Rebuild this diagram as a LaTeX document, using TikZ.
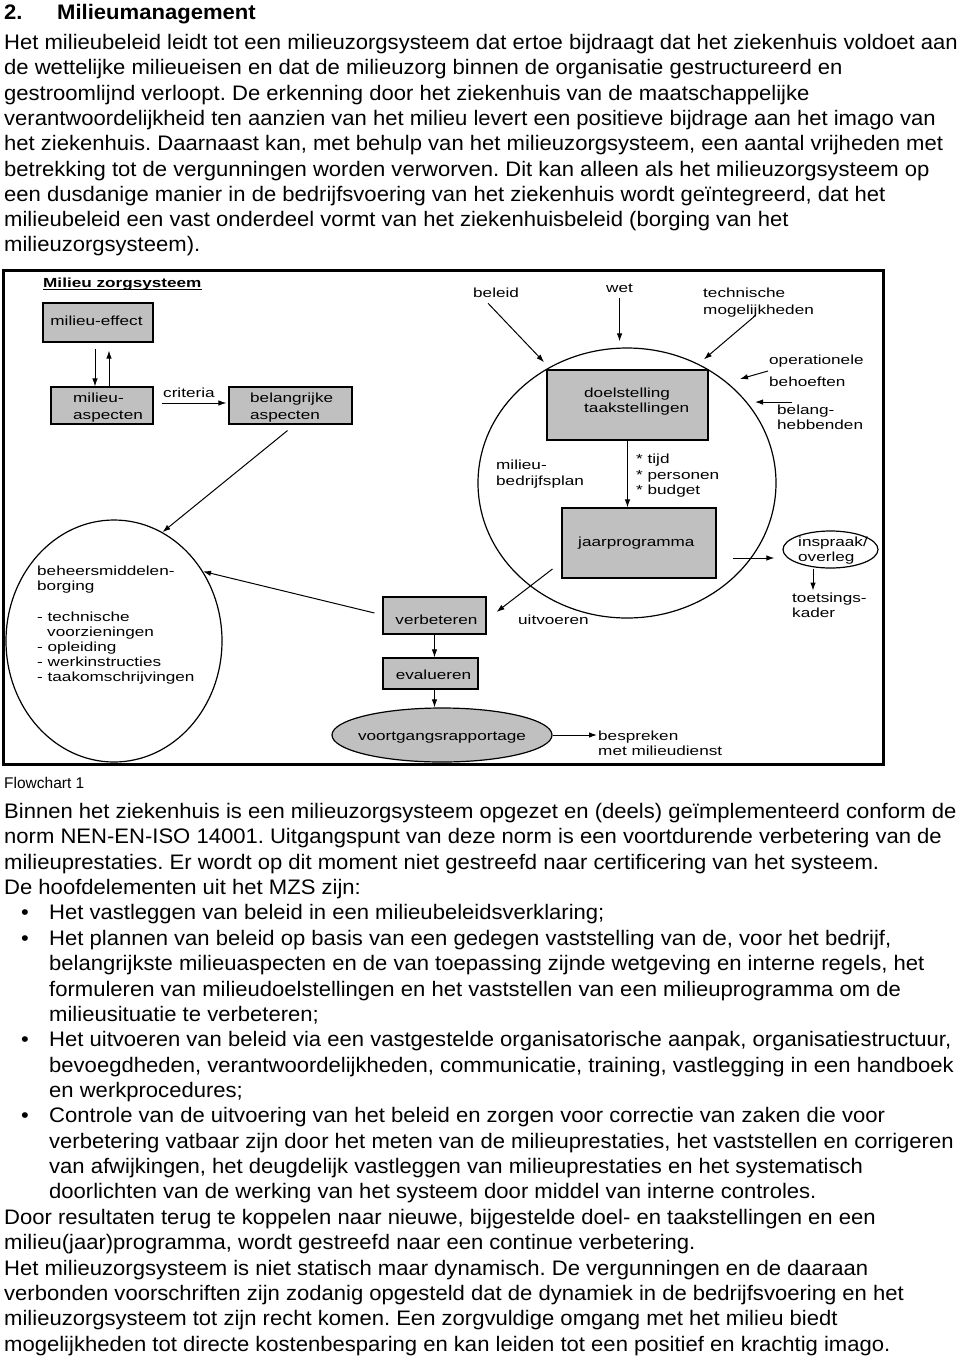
\documentclass[tikz,border=0pt]{standalone}
\usepackage{fontspec}
\setmainfont{Liberation Sans}
\newfontfamily\bodyfont[FakeStretch=1.05]{Liberation Sans}
\newfontfamily\diafont[FakeStretch=1.3]{Liberation Sans}
\usetikzlibrary{arrows.meta,calc,shapes.geometric}
\definecolor{boxgray}{RGB}{192,192,192}
\newcommand\bodyline[4]{\node[body] (#1) at (#2,#3) {#4};}
\frenchspacing
\begin{document}
\begin{tikzpicture}[x=1pt,y=-1pt,
  body/.style={font=\bodyfont\fontsize{21}{25}\selectfont, anchor=base west, inner sep=0pt},
  dt/.style={font=\diafont\fontsize{13.2}{15.3}\selectfont, anchor=base west, inner sep=0pt},
  dbox/.style={draw, line width=1.1pt, fill=boxgray, inner sep=0pt},
  dell/.style={draw, ellipse, line width=1.2pt, inner sep=0pt},
  arr/.style={-{Latex[length=8pt,width=5.5pt]}, line width=1pt},
]
\useasboundingbox (0,0) rectangle (960,1361);
\fill[white] (0,0) rectangle (960,1361);

% ---------- heading and first paragraph ----------
\node[body, font=\bodyfont\bfseries\fontsize{21}{25}\selectfont] (h2) at (4,19) {2.};
\node[body, font=\bodyfont\bfseries\fontsize{21}{25}\selectfont] (hm) at (57,19) {Milieumanagement};
\bodyline{t1}{4}{49.5}{Het milieubeleid leidt tot een milieuzorgsysteem dat ertoe bijdraagt dat het ziekenhuis voldoet aan}
\bodyline{t2}{4}{74.8}{de wettelijke milieueisen en dat de milieuzorg binnen de organisatie gestructureerd en}
\bodyline{t3}{4}{100.1}{gestroomlijnd verloopt. De erkenning door het ziekenhuis van de maatschappelijke}
\bodyline{t4}{4}{125.4}{verantwoordelijkheid ten aanzien van het milieu levert een positieve bijdrage aan het imago van}
\bodyline{t5}{4}{150.7}{het ziekenhuis. Daarnaast kan, met behulp van het milieuzorgsysteem, een aantal vrijheden met}
\bodyline{t6}{4}{176.0}{betrekking tot de vergunningen worden verworven. Dit kan alleen als het milieuzorgsysteem op}
\bodyline{t7}{4}{201.3}{een dusdanige manier in de bedrijfsvoering van het ziekenhuis wordt geïntegreerd, dat het}
\bodyline{t8}{4}{226.6}{milieubeleid een vast onderdeel vormt van het ziekenhuisbeleid (borging van het}
\bodyline{t9}{4}{251.9}{milieuzorgsysteem).}

% ---------- diagram frame ----------
\draw[line width=3pt] (3,270) rectangle (883,764);

% shapes
\node[dell, minimum width=298pt, minimum height=270pt] (plan) at (627,483) {};
\node[dell, minimum width=216pt, minimum height=242pt] (beh) at (114,641) {};
\node[dell, fill=boxgray, minimum width=220pt, minimum height=54pt] (voort) at (442,735) {};
\node[dell, minimum width=95pt, minimum height=37pt] (insp) at (830.5,549.5) {};
\node[dbox, minimum width=110pt, minimum height=39pt] (effect) at (98,322.5) {};
\node[dbox, minimum width=102pt, minimum height=37pt] (asp) at (102,405.5) {};
\node[dbox, minimum width=123pt, minimum height=37pt] (bel) at (290.5,405.5) {};
\node[dbox, minimum width=161pt, minimum height=70pt] (doel) at (627.5,405) {};
\node[dbox, minimum width=154pt, minimum height=70pt] (jaar) at (639,543) {};
\node[dbox, minimum width=103pt, minimum height=37pt] (verb) at (434.5,615.5) {};
\node[dbox, minimum width=95pt, minimum height=31pt] (eval) at (430.5,673.5) {};

% texts
\node[dt, font=\diafont\bfseries\fontsize{13.2}{15}\selectfont] (title) at (43,287) {Milieu zorgsysteem};
\draw[line width=1pt] ($(title.base west)+(0,2)$) -- ($(title.base east)+(0,2)$);
\node[dt, anchor=base] (efftxt) at (96.5,325.5) {milieu-effect};
\node[dt] (asptxt) at (73,402.5) {\vtop{\baselineskip=17pt\hbox{milieu-}\hbox{aspecten}}};
\node[dt] (crit) at (163,397.5) {criteria};
\node[dt] (beltxt) at (250,402.5) {\vtop{\baselineskip=17pt\hbox{belangrijke}\hbox{aspecten}}};
\node[dt] (beleid) at (473,297.5) {beleid};
\node[dt] (wet) at (606,292.5) {wet};
\node[dt] (tech) at (703,297.5) {\vtop{\baselineskip=17pt\hbox{technische}\hbox{mogelijkheden}}};
\node[dt] (oper) at (769,364.5) {operationele};
\node[dt] (behoef) at (769,386.5) {behoeften};
\node[dt] (belang) at (777,414.5) {\vtop{\baselineskip=15pt\hbox{belang-}\hbox{hebbenden}}};
\node[dt] (doeltxt) at (584,397.5) {\vtop{\baselineskip=15pt\hbox{doelstelling}\hbox{taakstellingen}}};
\node[dt] (mbp) at (496,469.5) {\vtop{\baselineskip=16pt\hbox{milieu-}\hbox{bedrijfsplan}}};
\node[dt] (tpb) at (636,463.5) {\vtop{\baselineskip=15.5pt\hbox{* tijd}\hbox{* personen}\hbox{* budget}}};
\node[dt] (jaartxt) at (578,546.5) {jaarprogramma};
\node[dt] (insptxt) at (798,546.5) {\vtop{\baselineskip=15pt\hbox{inspraak/}\hbox{overleg}}};
\node[dt] (toets) at (792,602.5) {\vtop{\baselineskip=15pt\hbox{toetsings-}\hbox{kader}}};
\node[dt] (uitv) at (518,624.5) {uitvoeren};
\node[dt, anchor=base] (verbtxt) at (436.5,624.5) {verbeteren};
\node[dt, anchor=base] (evaltxt) at (433.5,679.5) {evalueren};
\node[dt, anchor=base] (voorttxt) at (442,740.5) {voortgangsrapportage};
\node[dt] (besp) at (598,740.5) {\vtop{\baselineskip=15pt\hbox{bespreken}\hbox{met milieudienst}}};
\node[dt] (behtxt) at (37,575.5) {\vtop{\baselineskip=15.2pt\hbox{beheersmiddelen-}\hbox{borging}\hbox{}\hbox{- technische}\hbox{\hspace*{10pt}voorzieningen}\hbox{- opleiding}\hbox{- werkinstructies}\hbox{- taakomschrijvingen}}};

% connectors
\draw[arr] ([xshift=-3pt,yshift=-6pt]effect.south) -- ([xshift=-7pt]asp.north);
\draw[arr] ([xshift=7pt]asp.north) -- ([xshift=11pt,yshift=-8pt]effect.south);
\draw[arr] ([xshift=8pt,yshift=2.5pt]asp.east) -- ([xshift=-2pt,yshift=2.5pt]bel.west);
\draw[arr] ([xshift=-3pt,yshift=-6pt]bel.south) -- (beh.66);
\draw[arr, shorten >=7pt] ([xshift=-8pt,yshift=-5.5pt]beleid.south) -- (plan.124);
\draw[arr, shorten >=6pt] ([yshift=-5.5pt]wet.south) -- (wet.south |- plan.north);
\draw[arr, shorten >=7pt] ([xshift=-3pt,yshift=2pt]tech.south) -- (plan.59);
\draw[arr, shorten >=13pt] ([xshift=-1pt,yshift=-6.5pt]oper.base west) -- (plan.45);
\draw[arr, shorten >=8pt] ($(belang.base west |- plan.34)+(15,0)$) -- (plan.34);
\draw[arr] (doel.south) -- (doel.south |- jaar.north);
\draw[arr] ($(jaar.east)+(16,15)$) -- ($(insp.west)+(-8,8.5)$);
\draw[arr] ($(insp.south)+(-17.5,0)$) -- ($(insp.south)+(-17.5,22)$);
\draw[arr] ($(jaar.west)+(-9,26)$) -- ($(verb.east)+(10,-3.5)$);
\draw[arr] ($(verb.west)+(-8,-2.5)$) -- (beh.38);
\draw[arr] (verb.south) -- (verb.south |- eval.north);
\draw[arr] (verb.south |- eval.south) -- (verb.south |- voort.north);
\draw[arr, shorten >=1pt] (voort.east) -- (voort.east -| besp.base west);

% ---------- caption and second part ----------
\node[body, font=\fontsize{15.5}{18}\selectfont] (cap) at (4,788.5) {Flowchart 1};
\bodyline{k0}{4}{818.5}{Binnen het ziekenhuis is een milieuzorgsysteem opgezet en (deels) geïmplementeerd conform de}
\bodyline{k1}{4}{843.9}{norm NEN-EN-ISO 14001. Uitgangspunt van deze norm is een voortdurende verbetering van de}
\bodyline{k2}{4}{869.2}{milieuprestaties. Er wordt op dit moment niet gestreefd naar certificering van het systeem.}
\bodyline{k3}{4}{894.6}{De hoofdelementen uit het MZS zijn:}
\bodyline{b1}{21}{919.9}{•}
\bodyline{k4}{49}{919.9}{Het vastleggen van beleid in een milieubeleidsverklaring;}
\bodyline{b2}{21}{945.3}{•}
\bodyline{k5}{49}{945.3}{Het plannen van beleid op basis van een gedegen vaststelling van de, voor het bedrijf,}
\bodyline{k6}{49}{970.7}{belangrijkste milieuaspecten en de van toepassing zijnde wetgeving en interne regels, het}
\bodyline{k7}{49}{996.0}{formuleren van milieudoelstellingen en het vaststellen van een milieuprogramma om de}
\bodyline{k8}{49}{1021.4}{milieusituatie te verbeteren;}
\bodyline{b3}{21}{1046.7}{•}
\bodyline{k9}{49}{1046.7}{Het uitvoeren van beleid via een vastgestelde organisatorische aanpak, organisatiestructuur,}
\bodyline{k10}{49}{1072.1}{bevoegdheden, verantwoordelijkheden, communicatie, training, vastlegging in een handboek}
\bodyline{k11}{49}{1097.5}{en werkprocedures;}
\bodyline{b4}{21}{1122.8}{•}
\bodyline{k12}{49}{1122.8}{Controle van de uitvoering van het beleid en zorgen voor correctie van zaken die voor}
\bodyline{k13}{49}{1148.2}{verbetering vatbaar zijn door het meten van de milieuprestaties, het vaststellen en corrigeren}
\bodyline{k14}{49}{1173.5}{van afwijkingen, het deugdelijk vastleggen van milieuprestaties en het systematisch}
\bodyline{k15}{49}{1198.9}{doorlichten van de werking van het systeem door middel van interne controles.}
\bodyline{k16}{4}{1224.3}{Door resultaten terug te koppelen naar nieuwe, bijgestelde doel- en taakstellingen en een}
\bodyline{k17}{4}{1249.6}{milieu(jaar)programma, wordt gestreefd naar een continue verbetering.}
\bodyline{k18}{4}{1275.0}{Het milieuzorgsysteem is niet statisch maar dynamisch. De vergunningen en de daaraan}
\bodyline{k19}{4}{1300.3}{verbonden voorschriften zijn zodanig opgesteld dat de dynamiek in de bedrijfsvoering en het}
\bodyline{k20}{4}{1325.7}{milieuzorgsysteem tot zijn recht komen. Een zorgvuldige omgang met het milieu biedt}
\bodyline{k21}{4}{1351.0}{mogelijkheden tot directe kostenbesparing en kan leiden tot een positief en krachtig imago.}
\end{tikzpicture}
\end{document}
